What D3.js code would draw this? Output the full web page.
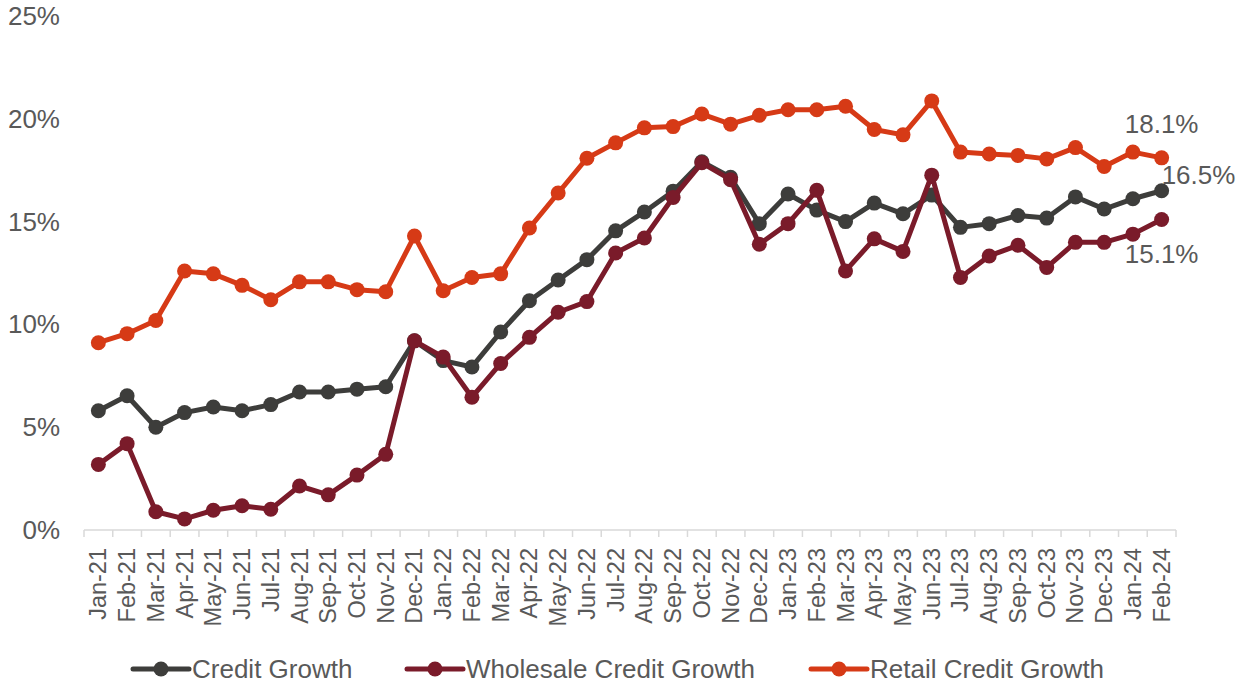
<!DOCTYPE html>
<html>
<head>
<meta charset="utf-8">
<script src="https://cdn.jsdelivr.net/npm/d3@7"></script>
<style>
  html, body { margin: 0; padding: 0; background: #fff; }
  svg { display: block; font-family: Arial, "Liberation Sans", sans-serif; }
</style>
</head>
<body>
<svg id="chart" width="1237" height="683"></svg>
<script>
// Monthly categories
const months = [
  "Jan-21","Feb-21","Mar-21","Apr-21","May-21","Jun-21","Jul-21","Aug-21","Sep-21","Oct-21","Nov-21","Dec-21",
  "Jan-22","Feb-22","Mar-22","Apr-22","May-22","Jun-22","Jul-22","Aug-22","Sep-22","Oct-22","Nov-22","Dec-22",
  "Jan-23","Feb-23","Mar-23","Apr-23","May-23","Jun-23","Jul-23","Aug-23","Sep-23","Oct-23","Nov-23","Dec-23",
  "Jan-24","Feb-24"
];

// Year-on-year growth, %
const creditGrowth = [
  5.8, 6.53, 5.0, 5.71, 5.98, 5.8, 6.1, 6.71, 6.71, 6.85, 6.97, 9.2,
  8.24, 7.93, 9.63, 11.15, 12.16, 13.15, 14.55, 15.47, 16.48, 17.91, 17.16, 14.9,
  16.34, 15.56, 15.0, 15.9, 15.38, 16.29, 14.72, 14.9, 15.3, 15.17, 16.2, 15.61,
  16.11, 16.5
];
const wholesaleGrowth = [
  3.19, 4.2, 0.89, 0.54, 0.96, 1.18, 1.01, 2.14, 1.71, 2.67, 3.68, 9.2,
  8.41, 6.46, 8.1, 9.37, 10.59, 11.11, 13.47, 14.2, 16.17, 17.86, 17.04, 13.9,
  14.9, 16.52, 12.6, 14.16, 13.55, 17.26, 12.28, 13.33, 13.85, 12.77, 13.99, 13.99,
  14.39, 15.1
];
const retailGrowth = [
  9.11, 9.55, 10.19, 12.6, 12.46, 11.9, 11.2, 12.07, 12.07, 11.69, 11.59, 14.3,
  11.64, 12.28, 12.46, 14.69, 16.39, 18.08, 18.83, 19.56, 19.62, 20.23, 19.74, 20.17,
  20.44, 20.44, 20.61, 19.48, 19.22, 20.87, 18.38, 18.29, 18.22, 18.05, 18.6, 17.68,
  18.38, 18.1
];

const yTicks = [0, 5, 10, 15, 20, 25];

const seriesNames = ["Credit Growth", "Wholesale Credit Growth", "Retail Credit Growth"];
const seriesColors = ["#3d3d3b", "#7a1b2a", "#d63a16"];

const series = [
  { name: seriesNames[0], values: creditGrowth,    color: seriesColors[0] },
  { name: seriesNames[1], values: wholesaleGrowth, color: seriesColors[1] },
  { name: seriesNames[2], values: retailGrowth,    color: seriesColors[2] }
];

const svg = d3.select("#chart");
const textColor = "#595959";

const x = d3.scaleBand().domain(months).range([84, 1176]).paddingInner(0).paddingOuter(0);
const y = d3.scaleLinear().domain([0, 25]).range([530, 16]);
const cx = m => x(m) + x.bandwidth() / 2;

// Y tick labels (no axis line, no gridlines)
svg.append("g")
  .selectAll("text")
  .data(yTicks)
  .join("text")
  .attr("x", 60)
  .attr("y", d => y(d))
  .attr("text-anchor", "end")
  .attr("dominant-baseline", "central")
  .attr("fill", textColor)
  .attr("font-size", 26)
  .text(d => d + "%");

// X axis baseline with tick marks at category boundaries
const xAxis = svg.append("g");
xAxis.append("line")
  .attr("x1", 84).attr("x2", 1176)
  .attr("y1", y(0)).attr("y2", y(0))
  .attr("stroke", "#d9d9d9").attr("stroke-width", 1.5);
const boundaries = months.map(m => x(m)).concat([x.range()[1]]);
xAxis.selectAll("line.tick")
  .data(boundaries)
  .join("line")
  .attr("class", "tick")
  .attr("x1", d => d).attr("x2", d => d)
  .attr("y1", y(0)).attr("y2", y(0) + 7)
  .attr("stroke", "#d9d9d9").attr("stroke-width", 1.5);

xAxis.selectAll("text")
  .data(months)
  .join("text")
  .attr("transform", d => `translate(${cx(d)},${y(0) + 18}) rotate(-90)`)
  .attr("text-anchor", "end")
  .attr("dominant-baseline", "central")
  .attr("fill", textColor)
  .attr("font-size", 23.5)
  .text(d => d);

// Lines with circular markers
const line = d3.line()
  .x((d, i) => cx(months[i]))
  .y(d => y(d));

const groups = svg.append("g")
  .selectAll("g.series")
  .data(series)
  .join("g")
  .attr("class", "series");

groups.append("path")
  .attr("d", d => line(d.values))
  .attr("fill", "none")
  .attr("stroke", d => d.color)
  .attr("stroke-width", 5)
  .attr("stroke-linejoin", "round");

groups.selectAll("circle")
  .data(d => d.values.map(v => ({ v, color: d.color })))
  .join("circle")
  .attr("cx", (d, i) => cx(months[i]))
  .attr("cy", d => y(d.v))
  .attr("r", 7.5)
  .attr("fill", d => d.color);

// Value labels on the latest month
const last = months.length - 1;
const lastX = cx(months[last]);
const labels = [
  { v: retailGrowth[last],    dx: 0,  dy: -25, anchor: "middle" },
  { v: creditGrowth[last],    dx: 0,  dy: -7,  anchor: "start" },
  { v: wholesaleGrowth[last], dx: 0,  dy: 43,  anchor: "middle" }
];
svg.append("g")
  .selectAll("text")
  .data(labels)
  .join("text")
  .attr("x", d => lastX + d.dx)
  .attr("y", d => y(d.v) + d.dy)
  .attr("text-anchor", d => d.anchor)
  .attr("fill", textColor)
  .attr("font-size", 26)
  .text(d => d.v.toFixed(1) + "%");

// Legend
const legendItems = [
  { name: seriesNames[0], color: seriesColors[0], x0: 133 },
  { name: seriesNames[1], color: seriesColors[1], x0: 407 },
  { name: seriesNames[2], color: seriesColors[2], x0: 811 }
];
const legend = svg.append("g")
  .selectAll("g")
  .data(legendItems)
  .join("g")
  .attr("transform", d => `translate(${d.x0},669)`);
legend.append("line")
  .attr("x1", 0).attr("x2", 56)
  .attr("y1", 0).attr("y2", 0)
  .attr("stroke", d => d.color)
  .attr("stroke-width", 5)
  .attr("stroke-linecap", "round");
legend.append("circle")
  .attr("cx", 28).attr("cy", 0).attr("r", 7.5)
  .attr("fill", d => d.color);
legend.append("text")
  .attr("x", 59)
  .attr("y", 0)
  .attr("dominant-baseline", "central")
  .attr("fill", textColor)
  .attr("font-size", 26)
  .text(d => d.name);
</script>
</body>
</html>
